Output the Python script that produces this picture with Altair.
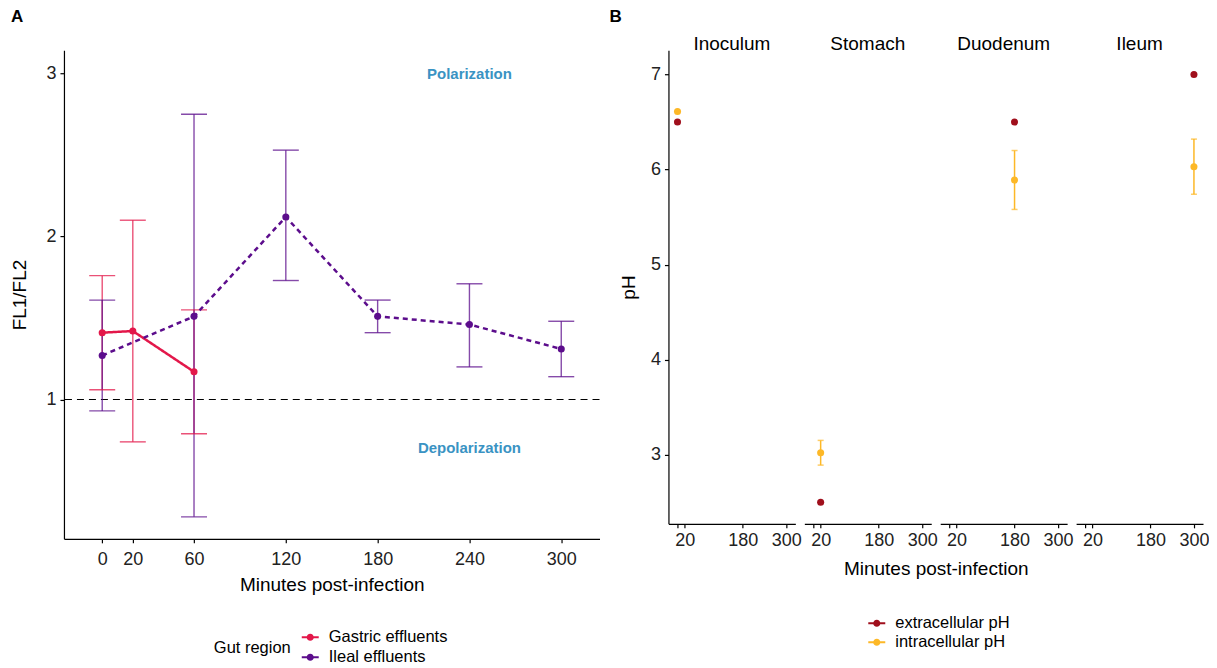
import altair as alt
import pandas as pd

FONT = "Liberation Sans"

# ---------------- Panel A data ----------------
a_region = ["Gastric effluents"] * 3 + ["Ileal effluents"] * 6
a_time = [0, 20, 60, 0, 60, 120, 180, 240, 300]
a_mean = [1.41, 1.42, 1.17, 1.27, 1.51, 2.12, 1.51, 1.46, 1.31]
a_lo = [1.06, 0.74, 0.79, 0.93, 0.28, 1.73, 1.41, 1.20, 1.14]
a_hi = [1.76, 2.10, 1.55, 1.61, 2.75, 2.53, 1.61, 1.71, 1.48]
a_regions = ["Gastric effluents", "Ileal effluents"]
a_colors = ["#E3174A", "#5C0D8C"]
a_ticks = [0, 20, 60, 120, 180, 240, 300]
annot_text = ["Polarization", "Depolarization"]
annot_x = [240, 240]
annot_y = [3.0, 0.7]
ref_level = [1.0]

# ---------------- Panel B data ----------------
b_regions = ["Inoculum", "Stomach", "Duodenum", "Ileum"]
b_time = [0, 20, 180, 300]
b_extra = [6.50, 2.50, 6.50, 7.00]
b_intra = [6.61, 3.02, 5.89, 6.03]
b_intra_lo = [None, 2.89, 5.58, 5.74]
b_intra_hi = [None, 3.15, 6.20, 6.32]
b_types = ["extracellular pH", "intracellular pH"]
b_colors = ["#A00F1C", "#FDB827"]
b_ticks = [0, 20, 180, 300]

SYM = ("M-1,-0.12L1,-0.12L1,0.12L-1,0.12Z "
       "M-0.42,0A0.42,0.42 0 1,1 0.42,0A0.42,0.42 0 1,1 -0.42,0Z")

# ---------------- Panel A ----------------
dfA = pd.DataFrame({"region": a_region, "time": a_time, "mean": a_mean,
                    "lo": a_lo, "hi": a_hi})
dfText = pd.DataFrame({"label": annot_text, "x": annot_x, "y": annot_y})
dfRef = pd.DataFrame({"ref": ref_level})

xscaleA = alt.Scale(domain=[-25, 325], nice=False, zero=False)
yscaleA = alt.Scale(domain=[0.145, 3.143], nice=False, zero=False)
# secondary scales (stroke / fill / dash) use data-driven domains so that
# their (hidden) legends are not merged with the visible colour legend
sscaleA = alt.Scale(range=a_colors)


def xA(field):
    return alt.X(field, title="Minutes post-infection", scale=xscaleA,
                 axis=alt.Axis(values=a_ticks, labelFlush=False, labelPadding=8,
                               titlePadding=7))


def yA(field):
    return alt.Y(field, title="FL1/FL2", scale=yscaleA,
                 axis=alt.Axis(values=[1, 2, 3], titlePadding=16))


legA = alt.Legend(orient="none", legendX=150, legendY=579, title="Gut region",
                  titleOrient="left", titleAnchor="middle", titleBaseline="middle",
                  direction="vertical", symbolType=SYM, symbolSize=289,
                  symbolStrokeWidth=0, labelFontSize=16.5, titleFontSize=16.5,
                  titleFontWeight="normal", titlePadding=10, labelOffset=10,
                  rowPadding=3)

hline = alt.Chart(dfRef).mark_rule(color="black", strokeDash=[7, 5],
                                   strokeWidth=1.2).encode(y=yA("ref:Q"))
rulesA = alt.Chart(dfA).mark_rule(strokeWidth=1.4, opacity=0.75).encode(
    x=xA("time:Q"), y=yA("lo:Q"), y2="hi:Q",
    stroke=alt.Stroke("region:N", scale=sscaleA, legend=None))
capsA = alt.Chart(dfA).transform_fold(["lo", "hi"], as_=["bound", "v"]).mark_tick(
    orient="horizontal", size=26, thickness=1.4, opacity=0.75).encode(
    x=xA("time:Q"), y=yA("v:Q"),
    fill=alt.Fill("region:N", scale=sscaleA, legend=None))
lineA = alt.Chart(dfA).mark_line(strokeWidth=2.5).encode(
    x=xA("time:Q"), y=yA("mean:Q"),
    stroke=alt.Stroke("region:N", scale=sscaleA, legend=None),
    strokeDash=alt.StrokeDash("region:N", scale=alt.Scale(range=[[1, 0], [5, 4]]),
                              legend=None))
ptsA = alt.Chart(dfA).mark_circle(size=50, opacity=1).encode(
    x=xA("time:Q"), y=yA("mean:Q"),
    color=alt.Color("region:N", scale=alt.Scale(domain=a_regions, range=a_colors),
                    legend=legA))
textA = alt.Chart(dfText).mark_text(font=FONT, fontWeight="bold", fontSize=15,
                                    color="#3A93C3").encode(
    x=xA("x:Q"), y=yA("y:Q"), text="label:N")

panelA = alt.layer(hline, rulesA, capsA, lineA, ptsA, textA).properties(
    width=536, height=489,
    title=alt.TitleParams("A", anchor="start", frame="bounds", fontSize=17,
                          fontWeight="bold", offset=24))

# ---------------- Panel B ----------------
rows = []
for i, r in enumerate(b_regions):
    rows.append({"region": r, "time": b_time[i], "type": b_types[0],
                 "value": b_extra[i], "lo": None, "hi": None})
    rows.append({"region": r, "time": b_time[i], "type": b_types[1],
                 "value": b_intra[i], "lo": b_intra_lo[i], "hi": b_intra_hi[i]})
dfB = pd.DataFrame(rows)

xscaleB = alt.Scale(domain=[-25, 325], nice=False, zero=False)
yscaleB = alt.Scale(domain=[2.272, 7.255], nice=False, zero=False)


def xB(field):
    return alt.X(field, title=None, scale=xscaleB,
                 axis=alt.Axis(values=b_ticks, labelFlush=False,
                               labelExpr="datum.value == 0 ? '' : datum.label"))


def yB(field):
    return alt.Y(field, title="pH", scale=yscaleB,
                 axis=alt.Axis(values=[3, 4, 5, 6, 7], titlePadding=12))


legB = alt.Legend(orient="none", legendX=200, legendY=565, title=None,
                  direction="vertical", symbolType=SYM, symbolSize=289,
                  symbolStrokeWidth=0, labelFontSize=16.5, labelOffset=10,
                  rowPadding=2)

# error bars exist only for the intracellular series
rulesB = alt.Chart().mark_rule(strokeWidth=1.5, color=b_colors[1]).encode(
    x=xB("time:Q"), y=yB("lo:Q"), y2="hi:Q")
capsB = alt.Chart().transform_fold(["lo", "hi"], as_=["bound", "v"]).mark_tick(
    orient="horizontal", size=6, thickness=1.5, color=b_colors[1]).encode(
    x=xB("time:Q"), y=yB("v:Q"))
ptsB = alt.Chart().mark_circle(size=50, opacity=1).encode(
    x=xB("time:Q"), y=yB("value:Q"),
    color=alt.Color("type:N", scale=alt.Scale(domain=b_types, range=b_colors),
                    legend=legB))

panelB = alt.layer(rulesB, capsB, ptsB, data=dfB).properties(
    width=127, height=474).facet(
    column=alt.Column("region:N", sort=b_regions,
                      header=alt.Header(title="Minutes post-infection",
                                        titleOrient="bottom", labelOrient="top",
                                        labelFont=FONT, titleFont=FONT,
                                        labelFontSize=19, titleFontSize=19,
                                        labelColor="black", titleColor="black",
                                        titleFontWeight="normal", labelPadding=-4,
                                        titlePadding=0)),
    spacing=9,
    title=alt.TitleParams("B", anchor="start", frame="bounds", fontSize=17,
                          fontWeight="bold", dx=-10, offset=9))

chart = alt.hconcat(panelA, panelB, spacing=8).resolve_scale(
    color="independent", stroke="independent", fill="independent",
    strokeDash="independent", x="independent", y="independent"
).resolve_legend(color="independent").properties(
    padding={"left": 2, "top": 0, "right": 0, "bottom": 0}
).configure_view(stroke=None).configure_axis(
    grid=False, domainColor="black", tickColor="black", domainWidth=1.2,
    tickWidth=1.2, tickSize=4, labelFont=FONT, titleFont=FONT, labelFontSize=18,
    titleFontSize=19, titleFontWeight="normal", labelColor="#222222",
    titleColor="black", labelPadding=4
).configure_legend(labelFont=FONT, titleFont=FONT, labelColor="black",
                   titleColor="black").configure_title(font=FONT, color="black",
                                                        anchor="start")

chart.save("out.html", embed_options={"renderer": "svg", "actions": False})
